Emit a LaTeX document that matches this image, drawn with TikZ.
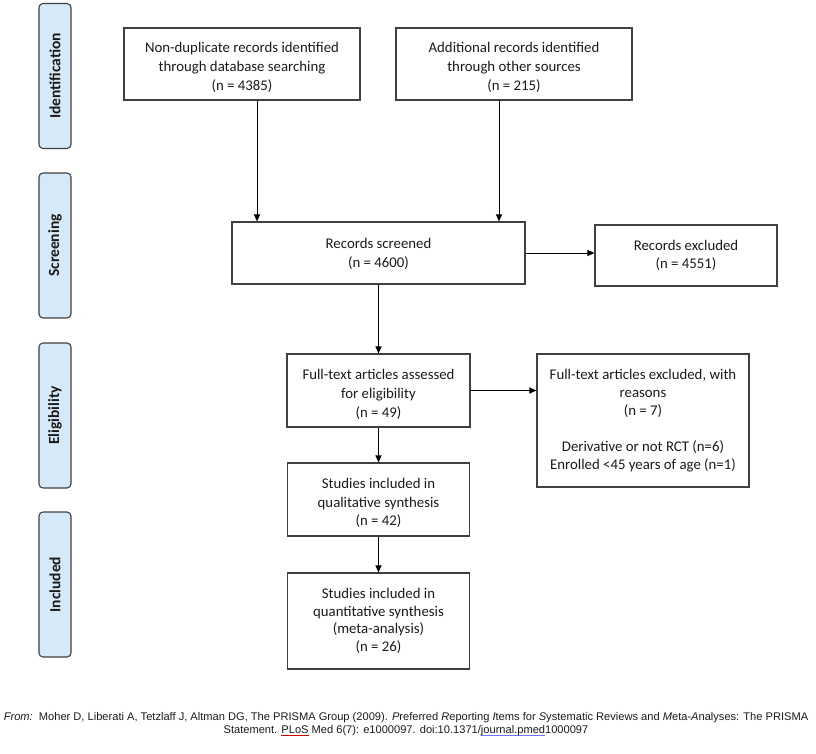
\documentclass[tikz,border=0pt]{standalone}
\usepackage{fontspec}
\setmainfont{Carlito}
\newfontfamily\footfont{Liberation Sans}
\usetikzlibrary{arrows.meta,calc}
\definecolor{sidefill}{HTML}{D6E9F8}
\definecolor{boxline}{HTML}{404040}
\definecolor{txt}{HTML}{1A1A1A}
\newcommand\redsquig[1]{\setbox0\hbox{#1}\rlap{\color{red!80!black}\raisebox{-2.5pt}{\rule{\wd0}{0.6pt}}}#1}
\newcommand\bluehl[1]{\setbox0\hbox{#1}\rlap{\color{blue!55}\raisebox{-2.5pt}{\rule{\wd0}{1.2pt}}}#1}
\tikzset{
  box/.style={draw=boxline, line width=1.1pt, inner sep=0pt},
  btext/.style={align=center, inner sep=0pt, text=txt,
    font=\fontsize{14.8}{18.7}\selectfont},
  side/.style={draw=boxline, fill=sidefill, rounded corners=4pt, line width=1.1pt,
    rotate=90, minimum width=145pt, minimum height=32pt, inner sep=0pt, text=txt,
    font=\bfseries\fontsize{15.5}{18}\selectfont},
  arr/.style={-{Triangle[length=7pt,width=6pt]}, line width=1pt}
}
\begin{document}
\begin{tikzpicture}[x=1pt,y=-1pt]
\useasboundingbox (0,0) rectangle (816,754);
% phase labels
\node[side] (s1) at (55,76) {Identification};
\node[side] (s2) at (55,245.5) {Screening};
\node[side] (s3) at (55,415.5) {Eligibility};
\node[side] (s4) at (55,584.5) {Included};
% boxes
\node[box, minimum width=236pt, minimum height=72pt] (b1) at (242,64) {};
\node[btext] (b1t) at ($(b1.center)+(0,3.5)$)
  {Non-duplicate records identified\\through database searching\\(n = 4385)};
\node[box, minimum width=236pt, minimum height=72pt] (b2) at (514,64) {};
\node[btext] (b2t) at ($(b2.center)+(0,3.5)$)
  {Additional records identified\\through other sources\\(n = 215)};
\node[box, minimum width=293pt, minimum height=62pt] (scr) at (378.5,253) {};
\node[btext] (scrt) at ($(scr.center)+(0,1)$)
  {Records screened\\(n = 4600)};
\node[box, minimum width=182pt, minimum height=61pt] (excl) at (686,255.5) {};
\node[btext] (exclt) at ($(excl.center)+(0,0)$)
  {Records excluded\\(n = 4551)};
\node[box, minimum width=183pt, minimum height=73pt] (ft) at (378.5,390.5) {};
\node[btext] (ftt) at ($(ft.center)+(0,4)$)
  {Full-text articles assessed\\for eligibility\\(n = 49)};
\node[box, minimum width=212pt, minimum height=133pt] (ftex) at (643,420.5) {};
\node[btext, font=\fontsize{14.8}{18}\selectfont] (ftext) at ($(ftex.center)+(0,0)$)
  {Full-text articles excluded, with\\reasons\\(n = 7)\\[18pt]Derivative or not RCT (n=6)\\Enrolled <45 years of age (n=1)};
\node[box, minimum width=182pt, minimum height=73pt] (qual) at (378.5,499.5) {};
\node[btext] (qualt) at ($(qual.center)+(0,3.5)$)
  {Studies included in\\qualitative synthesis\\(n = 42)};
\node[box, minimum width=182pt, minimum height=96pt] (quant) at (378.5,621) {};
\node[btext, font=\fontsize{14.8}{17.7}\selectfont] (quantt) at ($(quant.center)+(0,0)$)
  {Studies included in\\quantitative synthesis\\(meta-analysis)\\(n = 26)};
% connectors
\draw[arr] (b1.south -| 257,0) -- (scr.north -| 257,0);
\draw[arr] (b2.south -| 499,0) -- (scr.north -| 499,0);
\draw[arr] (scr.east) -- (scr.east -| excl.west);
\draw[arr] (scr.south) -- (ft.north);
\draw[arr] (ft.east) -- (ft.east -| ftex.west);
\draw[arr] (ft.south) -- (qual.north);
\draw[arr] (qual.south) -- (quant.north);
% footer
\node[font=\footfont\fontsize{11.1}{13}\selectfont, align=center, inner sep=0pt, text=txt] (foot) at (406,724)
  {\textit{From:}\ \ Moher D, Liberati A, Tetzlaff J, Altman DG, The PRISMA Group (2009). \textit{P}referred \textit{R}eporting \textit{I}tems for \textit{S}ystematic Reviews and \textit{M}eta-\textit{A}nalyses: The PRISMA\\
   Statement. \redsquig{PLoS} Med 6(7): e1000097. doi:10.1371/\bluehl{journal.pmed}1000097};
\end{tikzpicture}
\end{document}
